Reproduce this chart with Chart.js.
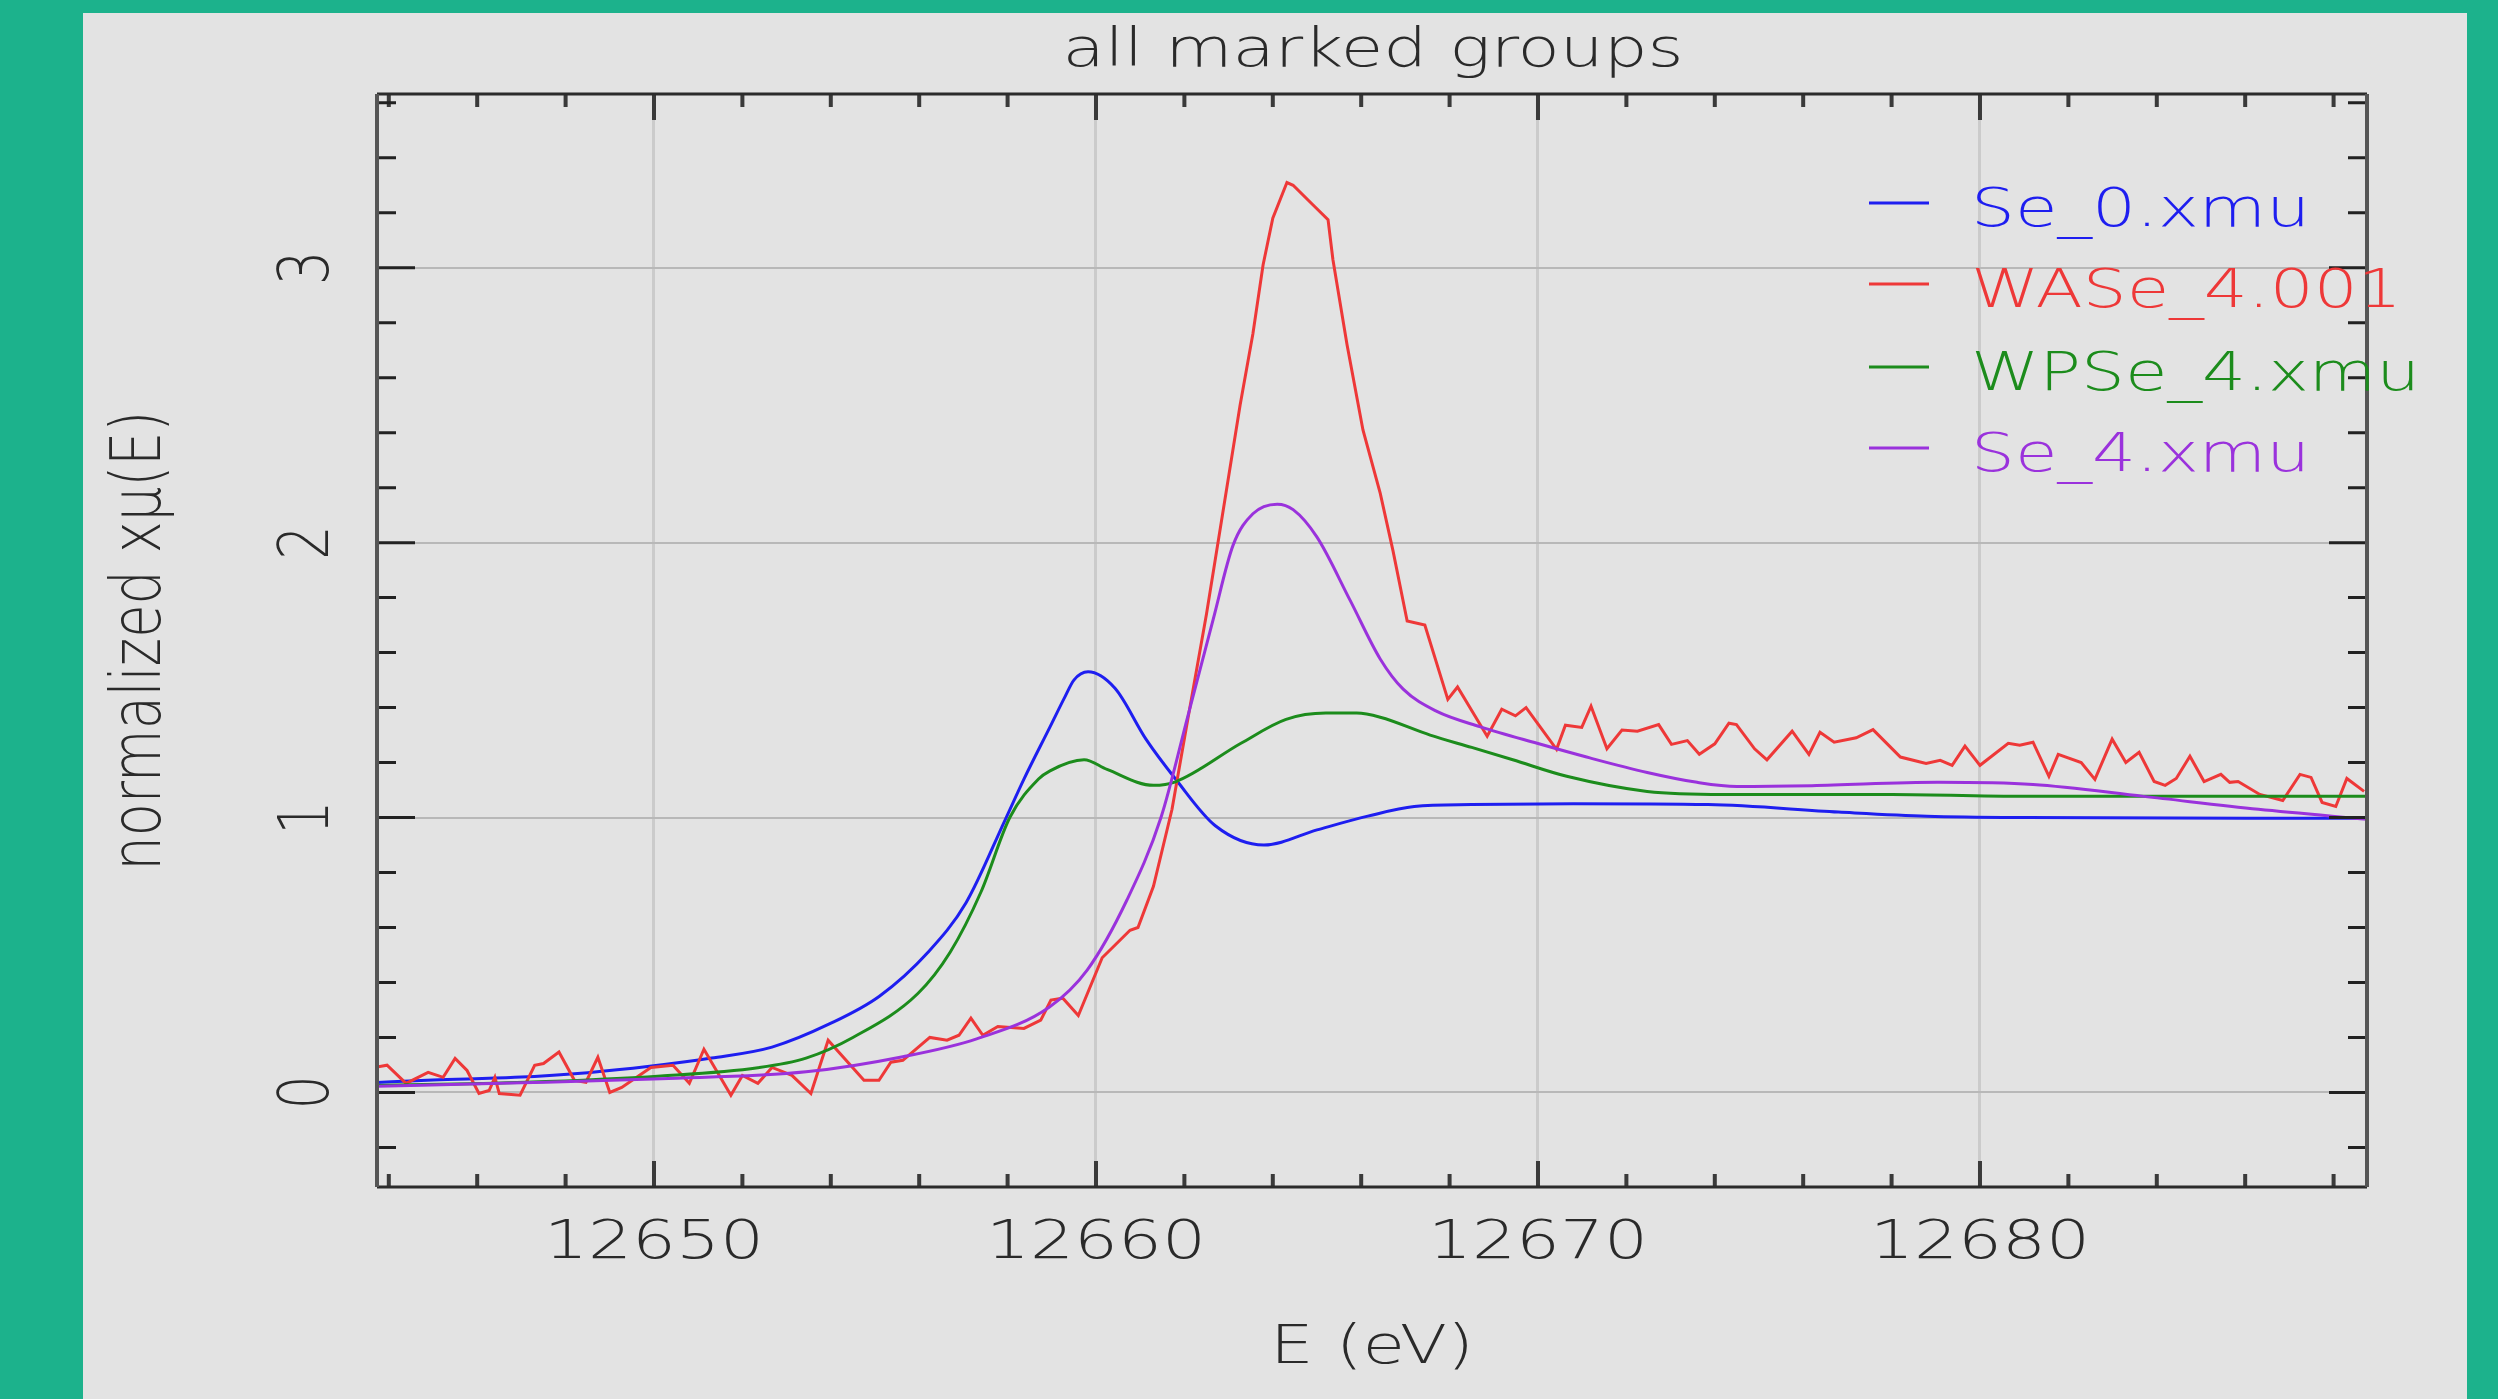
<!DOCTYPE html>
<html>
<head>
<meta charset="utf-8">
<title>all marked groups</title>
<script src="https://cdn.jsdelivr.net/npm/chart.js@4.4.1/dist/chart.umd.min.js"></script>
<style>
  html, body { margin: 0; padding: 0; background: #1cb28c; overflow: hidden; }
  canvas { display: block; }
</style>
</head>
<body>
<canvas id="xanes" width="2498" height="1399"></canvas>
<script>
// ---- normalized XANES spectra, energies in eV ----
const se0Energy = [12643.6, 12645.0, 12646.85, 12648.5, 12649.9, 12651.3, 12652.67, 12653.98, 12655.1, 12656.2,
  12657.06, 12657.94, 12658.37, 12658.96, 12659.3, 12659.5, 12659.82, 12660.43, 12661.13, 12661.8, 12662.7,
  12663.8, 12665.0, 12666.15, 12667.2, 12668.5, 12670.8, 12673.85, 12676.8, 12678.8, 12681.06, 12688.8];
const se0Mu = [0.035, 0.045, 0.055, 0.072, 0.095, 0.125, 0.165, 0.25, 0.35, 0.51,
  0.69, 0.99, 1.14, 1.33, 1.44, 1.50, 1.53, 1.47, 1.285, 1.14, 0.97,
  0.90, 0.955, 1.005, 1.04, 1.047, 1.05, 1.047, 1.02, 1.005, 1.0, 0.997];

const waseEnergy = [12643.57, 12643.96, 12644.39, 12644.89, 12645.23, 12645.5, 12645.77, 12646.04, 12646.27, 12646.4,
  12646.5, 12646.97, 12647.3, 12647.5, 12647.85, 12648.2, 12648.46, 12648.73, 12649.0, 12649.27,
  12649.93, 12650.43, 12650.8, 12651.13, 12651.74, 12652.0, 12652.35, 12652.67, 12653.12, 12653.55,
  12653.94, 12654.75, 12655.09, 12655.36, 12655.63, 12656.24, 12656.63, 12656.9, 12657.17, 12657.44,
  12657.78, 12658.37, 12658.75, 12658.98, 12659.25, 12659.6, 12660.14, 12660.77, 12660.95, 12661.3,
  12661.72, 12662.08, 12662.5, 12662.96, 12663.26, 12663.55, 12663.78, 12664.0, 12664.32, 12664.46,
  12664.9, 12665.25, 12665.36, 12665.68, 12666.04, 12666.43, 12666.72, 12667.04, 12667.44, 12667.96,
  12668.18, 12668.85, 12669.18, 12669.49, 12669.73, 12670.42, 12670.62, 12670.99, 12671.2, 12671.56,
  12671.9, 12672.25, 12672.73, 12673.02, 12673.38, 12673.65, 12674.0, 12674.32, 12674.49, 12674.9,
  12675.18, 12675.75, 12676.13, 12676.38, 12676.7, 12677.2, 12677.58, 12678.2, 12678.78, 12679.1,
  12679.37, 12679.66, 12680.0, 12680.64, 12680.9, 12681.2, 12681.56, 12681.77, 12682.29, 12682.6,
  12682.99, 12683.3, 12683.6, 12683.94, 12684.19, 12684.44, 12684.75, 12685.07, 12685.45, 12685.65,
  12685.84, 12686.33, 12686.85, 12687.24, 12687.49, 12687.74, 12688.05, 12688.3, 12688.69];
const waseMu = [0.088, 0.099, 0.033, 0.073, 0.055, 0.124, 0.08, -0.004, 0.007, 0.055,
  -0.004, -0.01, 0.099, 0.105, 0.147, 0.044, 0.037, 0.128, 0.0, 0.018,
  0.091, 0.099, 0.033, 0.157, -0.01, 0.062, 0.033, 0.091, 0.062, -0.004,
  0.19, 0.044, 0.044, 0.11, 0.117, 0.20, 0.19, 0.208, 0.27, 0.208,
  0.24, 0.233, 0.263, 0.336, 0.343, 0.28, 0.49, 0.59, 0.60, 0.75,
  1.03, 1.36, 1.74, 2.20, 2.50, 2.76, 3.01, 3.18, 3.31, 3.30,
  3.23, 3.175, 3.03, 2.72, 2.41, 2.18, 1.97, 1.715, 1.70, 1.43,
  1.475, 1.296, 1.394, 1.37, 1.40, 1.248, 1.336, 1.328, 1.405, 1.25,
  1.318, 1.314, 1.338, 1.266, 1.28, 1.23, 1.268, 1.343, 1.338, 1.25,
  1.21, 1.314, 1.23, 1.31, 1.274, 1.29, 1.32, 1.22, 1.197, 1.208,
  1.19, 1.26, 1.19, 1.27, 1.263, 1.274, 1.15, 1.23, 1.20, 1.139,
  1.285, 1.20, 1.237, 1.131, 1.117, 1.142, 1.223, 1.131, 1.157, 1.128,
  1.131, 1.084, 1.062, 1.157, 1.146, 1.055, 1.04, 1.142, 1.095];

const wpseEnergy = [12643.6, 12647.1, 12650.16, 12652.35, 12653.44, 12654.5, 12655.97, 12656.7, 12657.4, 12658.05,
  12658.7, 12658.96, 12659.73, 12660.25, 12661.3, 12661.8, 12663.28, 12664.3, 12665.2, 12665.9,
  12666.43, 12667.56, 12668.5, 12669.43, 12670.65, 12672.47, 12674.2, 12678.0, 12681.2, 12688.8];
const wpseMu = [0.025, 0.037, 0.06, 0.09, 0.125, 0.20, 0.36, 0.51, 0.73, 1.0,
  1.14, 1.17, 1.21, 1.175, 1.117, 1.13, 1.27, 1.357, 1.38, 1.38,
  1.365, 1.30, 1.255, 1.21, 1.15, 1.095, 1.084, 1.084, 1.077, 1.077];

const se4Energy = [12643.6, 12647.0, 12650.16, 12653.44, 12655.63, 12657.3, 12658.94, 12659.8, 12660.7, 12661.47,
  12662.08, 12662.65, 12663.1, 12663.55, 12664.1, 12664.46, 12665.0, 12665.75, 12666.43, 12666.95,
  12667.7, 12668.7, 12669.98, 12671.1, 12672.47, 12673.6, 12674.5, 12676.2, 12679.05, 12681.2,
  12683.7, 12686.3, 12688.8];
const se4Mu = [0.022, 0.035, 0.05, 0.075, 0.13, 0.195, 0.31, 0.445, 0.70, 1.0,
  1.37, 1.72, 1.99, 2.105, 2.14, 2.12, 2.02, 1.79, 1.577, 1.467,
  1.387, 1.33, 1.27, 1.22, 1.164, 1.128, 1.113, 1.116, 1.128, 1.12,
  1.077, 1.03, 0.993];

const seriesNames = ['Se_0.xmu', 'WASe_4.001', 'WPSe_4.xmu', 'Se_4.xmu'];
const seriesColors = ['#1e1ef0', '#ee3838', '#1c8c1c', '#9a32dc'];

// axis ticks and labels
const xMajorTicks = [12650, 12660, 12670, 12680];
const xTickLabels = ['12650', '12660', '12670', '12680'];
const yMajorTicks = [0, 1, 2, 3];
const yTickLabels = ['0', '1', '2', '3'];
const xMinorStep = 2;
const yMinorStep = 0.2;

const titleText = 'all marked groups';
const xTitle = 'E (eV)';
const yTitle = 'normalized x\u03bc(E)';

// ---- drawing helpers ----
const FONT_FAMILY = '"DejaVu Sans", "Liberation Sans", sans-serif';
const TEXT_STRETCH = 1.28;   // horizontally widened lettering
const TEXT_COLOR = '#2a2a2a';

function stretchedText(ctx, txt, x, y, o) {
  ctx.save();
  ctx.translate(x, y);
  ctx.scale(TEXT_STRETCH, 1);
  if (o.rotate) ctx.rotate(-Math.PI / 2);
  ctx.font = (o.weight || 300) + ' ' + (o.size || 54) + 'px ' + FONT_FAMILY;
  ctx.textAlign = o.align || 'center';
  ctx.textBaseline = 'alphabetic';
  ctx.fillStyle = o.color || TEXT_COLOR;
  ctx.fillText(txt, 0, 0);
  ctx.restore();
}

function zip(xs, ys) { return xs.map((x, i) => ({ x: x, y: ys[i] })); }

const panelPlugin = {
  id: 'panel',
  beforeDraw(chart) {
    const ctx = chart.ctx;
    ctx.save();
    ctx.fillStyle = '#1cb28c';
    ctx.fillRect(0, 0, chart.width, chart.height);
    ctx.fillStyle = '#e3e3e3';
    ctx.fillRect(83, 13, 2384, chart.height - 13);
    ctx.restore();
  }
};

const framePlugin = {
  id: 'frame',
  afterDatasetsDraw(chart) {
    const ctx = chart.ctx;
    const a = chart.chartArea;
    const xs = chart.scales.x, ys = chart.scales.y;
    ctx.save();
    // minor + major ticks on all four sides, pointing inwards
    ctx.lineCap = 'butt';
    ctx.strokeStyle = '#3a3a3a';
    ctx.lineWidth = 4;
    const xStart = Math.ceil(xs.min / xMinorStep) * xMinorStep;
    for (let v = xStart; v <= xs.max + 1e-9; v += xMinorStep) {
      const major = xMajorTicks.includes(Math.round(v));
      const len = major ? 26 : 13;
      const px = xs.getPixelForValue(v);
      ctx.beginPath();
      ctx.moveTo(px, a.bottom); ctx.lineTo(px, a.bottom - len);
      ctx.moveTo(px, a.top); ctx.lineTo(px, a.top + len);
      ctx.stroke();
    }
    ctx.strokeStyle = '#222';
    ctx.lineWidth = 3;
    const yStart = Math.ceil(ys.min / yMinorStep - 1e-9);
    const yEnd = Math.floor(ys.max / yMinorStep + 1e-9);
    for (let k = yStart; k <= yEnd; k++) {
      const v = k * yMinorStep;
      const major = yMajorTicks.some(t => Math.abs(t - v) < 1e-6);
      const len = major ? 38 : 19;
      const py = ys.getPixelForValue(v);
      ctx.beginPath();
      ctx.moveTo(a.left, py); ctx.lineTo(a.left + len, py);
      ctx.moveTo(a.right, py); ctx.lineTo(a.right - len, py);
      ctx.stroke();
    }
    // box
    ctx.strokeStyle = '#2b2b2b';
    ctx.lineWidth = 3;
    ctx.beginPath();
    ctx.moveTo(a.left, a.top); ctx.lineTo(a.right, a.top);
    ctx.moveTo(a.left, a.bottom); ctx.lineTo(a.right, a.bottom);
    ctx.stroke();
    ctx.strokeStyle = '#555';
    ctx.lineWidth = 4;
    ctx.beginPath();
    ctx.moveTo(a.left, a.top); ctx.lineTo(a.left, a.bottom);
    ctx.moveTo(a.right, a.top); ctx.lineTo(a.right, a.bottom);
    ctx.stroke();
    ctx.restore();
  },
  afterDraw(chart) {
    const ctx = chart.ctx;
    const a = chart.chartArea;
    const xs = chart.scales.x, ys = chart.scales.y;
    const cx = (a.left + a.right) / 2;
    const cy = (a.top + a.bottom) / 2;
    // title and axis titles
    stretchedText(ctx, titleText, cx + 1, 66, { size: 54 });
    stretchedText(ctx, xTitle, cx, 1363, { size: 54 });
    stretchedText(ctx, yTitle, 160, cy, { size: 54, rotate: true });
    // tick labels
    xMajorTicks.forEach((v, i) => {
      stretchedText(ctx, xTickLabels[i], xs.getPixelForValue(v), 1258, { size: 54 });
    });
    yMajorTicks.forEach((v, i) => {
      stretchedText(ctx, yTickLabels[i], 328, ys.getPixelForValue(v), { size: 54, rotate: true });
    });
    // legend inside the plot, upper right
    const rowY = [203, 284, 367, 448];
    ctx.save();
    ctx.lineWidth = 3;
    seriesNames.forEach((name, i) => {
      ctx.strokeStyle = seriesColors[i];
      ctx.beginPath();
      ctx.moveTo(1869, rowY[i]); ctx.lineTo(1929, rowY[i]);
      ctx.stroke();
      stretchedText(ctx, name, 1971, rowY[i] + 23, { size: 54, align: 'left', color: seriesColors[i] });
    });
    ctx.restore();
  }
};

const energies = [se0Energy, waseEnergy, wpseEnergy, se4Energy];
const mus = [se0Mu, waseMu, wpseMu, se4Mu];
const drawOrder = [4, 3, 2, 1];   // purple drawn last (on top)

const datasets = seriesNames.map((name, i) => ({
  label: name,
  data: zip(energies[i], mus[i]),
  borderColor: seriesColors[i],
  backgroundColor: seriesColors[i],
  borderWidth: 3,
  pointRadius: 0,
  fill: false,
  order: drawOrder[i],
  tension: i === 1 ? 0 : 0.4,
  cubicInterpolationMode: i === 1 ? 'default' : 'monotone'
}));

new Chart(document.getElementById('xanes'), {
  type: 'line',
  data: { datasets: datasets },
  plugins: [panelPlugin, framePlugin],
  options: {
    responsive: false,
    animation: false,
    devicePixelRatio: 1,
    layout: { padding: { left: 377, top: 94, right: 131, bottom: 212 } },
    plugins: { legend: { display: false }, title: { display: false }, tooltip: { enabled: false } },
    scales: {
      x: {
        type: 'linear',
        min: 12643.733,
        max: 12688.756,
        border: { display: false },
        ticks: { display: false },
        afterBuildTicks: (s) => { s.ticks = xMajorTicks.map(v => ({ value: v })); },
        afterFit: (s) => { s.height = 0; },
        grid: { drawTicks: false, color: '#cbcbcb', lineWidth: 3 }
      },
      y: {
        type: 'linear',
        min: -0.344,
        max: 3.632,
        border: { display: false },
        ticks: { display: false },
        afterBuildTicks: (s) => { s.ticks = yMajorTicks.map(v => ({ value: v })); },
        afterFit: (s) => { s.width = 0; },
        grid: { drawTicks: false, color: '#b8b8b8', lineWidth: 2 }
      }
    }
  }
});
</script>
</body>
</html>
